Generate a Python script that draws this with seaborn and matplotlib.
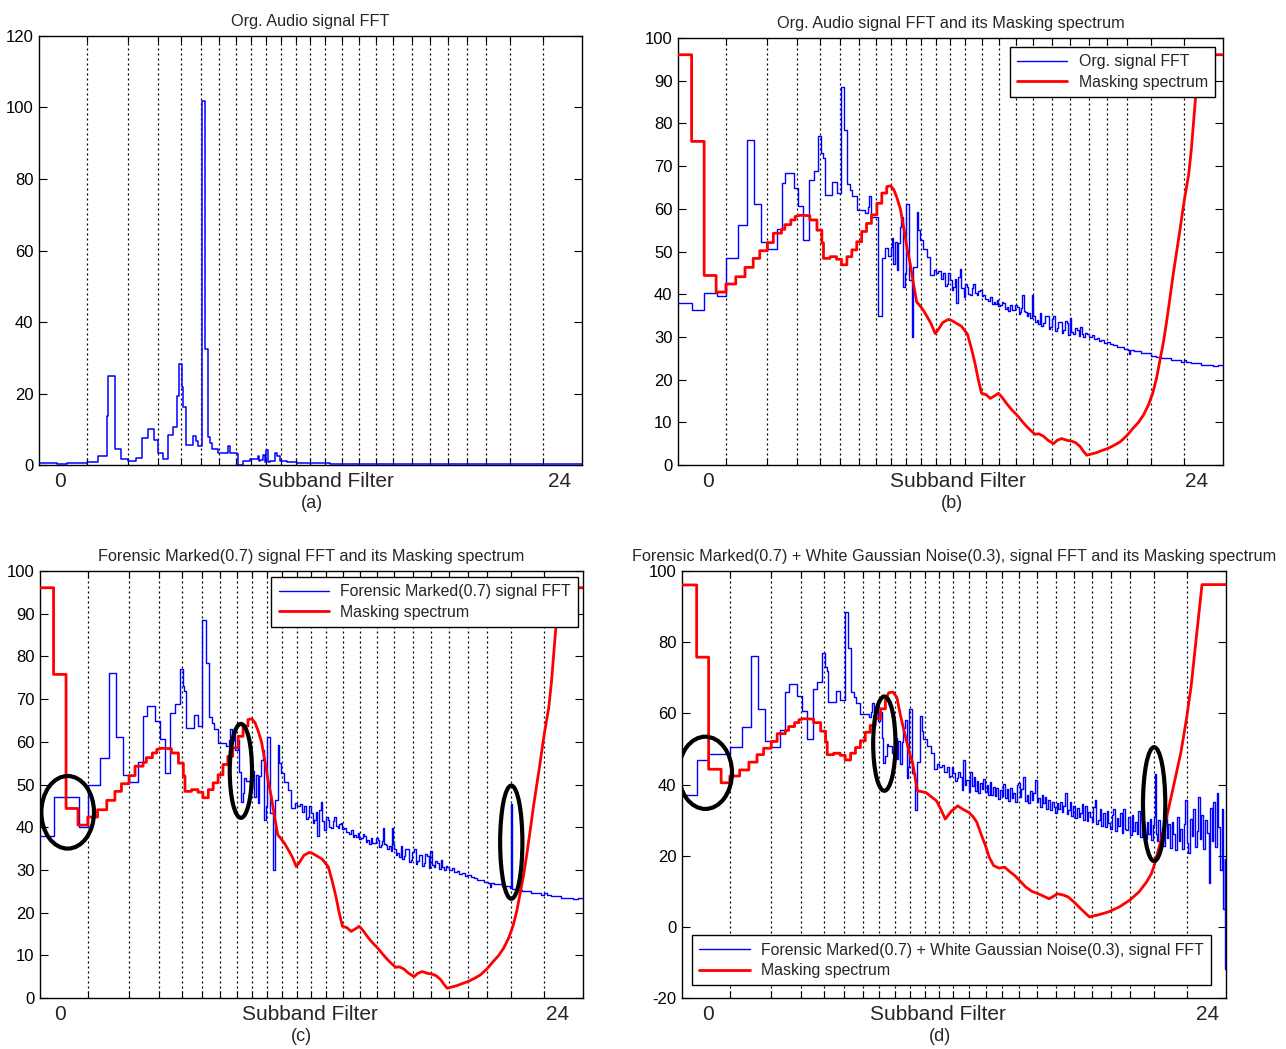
import numpy as np
import pandas as pd
import seaborn as sns
import matplotlib.pyplot as plt
from matplotlib.patches import Ellipse

#--------------------------------------------------------------------------------------------------
# Data. x = position along the subband axis (0..100 of the frame width)

band_edges = [8.9, 16.4, 21.9, 26.1, 29.8, 33.2, 36.3, 39.1, 41.9, 44.6, 47.3, 49.9,
              52.7, 55.8, 58.9, 62.0, 65.2, 68.7, 72.0, 75.4, 78.8, 82.3, 86.8, 92.8]

# (a) linear magnitude of the original FFT
org_amp = [
    (0.0, 0.5), (3.3, 0.3), (5.1, 0.6), (8.9, 0.9), (10.9, 2.4), (12.5, 13.8), (12.8, 24.9), (14.0, 4.5),
    (15.2, 1.7), (16.4, 1.2), (17.9, 2.1), (18.9, 7.5), (20.0, 10.0), (21.1, 7.0), (22.0, 3.3), (22.9, 1.7),
    (23.8, 8.5), (24.6, 10.5), (25.4, 19.3), (25.7, 28.2), (26.3, 21.7), (26.6, 16.1), (27.1, 5.6), (28.4, 8.2),
    (28.9, 6.8), (29.3, 5.4), (29.96, 101.8), (30.6, 32.5), (31.1, 7.7), (31.5, 6.2), (31.8, 4.5), (33.0, 3.5),
    (34.9, 5.4), (35.2, 3.3), (36.4, 3.0), (36.7, 0.1), (37.6, 1.0), (38.9, 1.7), (40.4, 2.6), (40.6, 1.2),
    (40.8, 1.5), (41.3, 2.9), (41.6, 0.8), (41.8, 4.2), (42.1, 0.8), (42.5, 1.2), (43.5, 3.3), (43.8, 2.4),
    (44.4, 1.2), (45.6, 0.9), (47.5, 0.7), (50.5, 0.5), (53.6, 0.3), (60.0, 0.2), (100.0, 0.2),
]

# (b) original signal FFT in dB
org_fft = [
    (0.0, 38.0), (2.5, 36.3), (4.8, 40.2), (7.1, 39.7), (8.8, 48.4), (11.1, 56.3), (12.7, 76.2), (14.0, 61.1),
    (15.2, 52.2), (16.4, 50.5), (18.1, 55.2), (19.0, 66.0), (19.7, 68.4), (21.2, 64.8), (22.1, 60.7), (23.0, 52.7),
    (24.0, 66.8), (24.9, 68.8), (25.7, 77.1), (26.3, 73.0), (26.6, 72.0), (26.9, 63.3), (28.3, 66.4), (29.1, 63.7),
    (29.9, 88.5), (30.5, 78.5), (31.1, 65.9), (31.6, 64.5), (32.0, 62.9), (32.8, 59.8), (34.3, 59.1), (34.8, 60.5),
    (35.0, 63.0), (35.4, 58.2), (36.7, 34.8), (37.4, 48.4), (37.9, 50.8), (38.6, 49.0), (39.0, 51.1), (39.3, 53.1),
    (39.5, 47.2), (39.8, 52.3), (40.1, 45.7), (40.4, 51.9), (40.7, 55.8), (41.0, 58.2), (41.3, 41.8), (41.6, 45.0),
    (41.8, 61.2), (42.3, 43.3), (42.9, 30.1), (43.2, 46.4), (43.8, 59.3), (44.1, 55.0), (44.4, 52.7), (45.0, 50.7),
    (45.7, 48.8), (46.3, 44.5), (46.9, 45.7), (47.3, 44.9), (47.8, 45.5), (48.2, 43.6), (48.7, 44.9), (49.0, 42.0),
    (49.3, 42.5), (49.6, 45.0), (49.9, 43.3), (50.2, 41.0), (50.5, 41.8), (50.8, 43.5), (51.1, 37.9), (51.4, 44.0),
    (51.7, 46.0), (52.0, 41.5), (52.4, 39.4), (52.7, 42.5), (53.0, 41.8), (53.3, 40.0), (53.6, 39.8), (53.9, 41.5),
    (54.2, 42.5), (54.5, 40.2), (54.8, 39.8), (55.1, 40.8), (55.4, 41.0), (55.7, 39.5), (56.0, 39.8), (56.3, 38.8),
    (56.6, 39.0), (56.9, 38.5), (57.3, 39.4), (57.6, 37.8), (57.9, 38.2), (58.2, 37.6), (58.5, 38.6), (58.8, 37.2),
    (59.1, 37.5), (59.4, 38.3), (59.7, 37.9), (60.0, 36.6), (60.3, 37.1), (60.6, 36.0), (60.9, 37.5), (61.2, 36.2),
    (61.5, 36.3), (61.8, 37.4), (62.2, 37.1), (62.5, 35.4), (62.8, 35.9), (63.0, 36.8), (63.2, 39.8), (63.4, 36.0),
    (63.7, 35.9), (64.0, 34.9), (64.3, 35.6), (64.6, 34.5), (64.9, 39.8), (65.1, 36.0), (65.2, 34.8), (65.5, 33.6),
    (65.8, 34.0), (66.1, 33.0), (66.4, 35.6), (66.7, 32.6), (67.0, 33.2), (67.3, 34.9), (67.7, 34.8), (68.0, 31.8),
    (68.3, 32.4), (68.6, 34.2), (68.9, 34.8), (69.2, 31.4), (69.5, 32.0), (69.8, 33.6), (70.1, 33.6), (70.4, 31.0),
    (70.7, 31.6), (71.0, 33.8), (71.3, 33.2), (71.6, 30.4), (71.9, 34.4), (72.2, 31.2), (72.5, 30.8), (72.8, 32.0),
    (73.2, 31.6), (73.5, 30.2), (73.8, 32.4), (74.1, 30.6), (74.4, 30.1), (74.7, 31.0), (75.0, 30.8), (75.4, 29.9),
    (75.9, 30.5), (76.3, 29.6), (76.8, 29.7), (77.2, 29.0), (77.7, 29.3), (78.2, 28.6), (78.7, 28.9), (79.3, 28.4),
    (79.9, 28.1), (80.5, 27.6), (81.1, 27.7), (81.8, 27.2), (82.6, 27.0), (82.8, 26.0), (83.0, 27.0), (83.6, 26.6),
    (84.2, 26.6), (85.0, 26.2), (85.9, 26.2), (86.8, 25.6), (87.8, 25.4), (88.7, 25.1), (89.6, 25.0), (90.5, 24.6),
    (91.4, 24.6), (92.3, 24.2), (92.8, 24.6), (93.3, 24.2), (94.2, 23.8), (95.1, 23.8), (96.0, 23.4), (97.0, 23.4),
    (98.2, 23.2), (99.1, 23.4), (100.0, 23.0),
]

# (c) forensic marked (0.7) signal FFT in dB
marked_fft = [
    (0.0, 37.9), (2.6, 47.0), (7.2, 40.0), (8.8, 50.0), (11.1, 56.3), (12.7, 76.2), (14.0, 61.1),
    (15.2, 52.2), (16.4, 50.5), (18.1, 55.2), (19.0, 66.0), (19.7, 68.4), (21.2, 64.8), (22.1, 60.7), (23.0, 52.7),
    (24.0, 66.8), (24.9, 68.8), (25.7, 77.1), (26.3, 73.0), (26.6, 72.0), (26.9, 63.3), (28.3, 66.4), (29.1, 63.7),
    (29.9, 88.5), (30.5, 78.5), (31.1, 65.9), (31.6, 64.5), (32.0, 62.9), (32.8, 59.8), (34.3, 59.1), (34.8, 60.5),
    (35.0, 63.0), (35.3, 60.5), (35.7, 62.0), (36.0, 58.0), (36.4, 60.5), (36.7, 53.0), (37.0, 46.0), (37.3, 48.0),
    (37.6, 51.5), (37.9, 50.8), (38.6, 49.0), (39.0, 51.1), (39.3, 53.1),
    (39.5, 47.2), (39.8, 52.3), (40.1, 45.7), (40.4, 51.9), (40.7, 55.8), (41.0, 58.2), (41.3, 41.8), (41.6, 45.0),
    (41.8, 61.2), (42.3, 43.3), (42.9, 30.1), (43.2, 46.4), (43.8, 59.3), (44.1, 55.0), (44.4, 52.7), (45.0, 50.7),
    (45.7, 48.8), (46.3, 44.5), (46.9, 45.7), (47.3, 44.9), (47.8, 45.5), (48.2, 43.6), (48.7, 44.9), (49.0, 42.0),
    (49.3, 42.5), (49.6, 45.0), (49.9, 43.3), (50.2, 41.0), (50.5, 41.8), (50.8, 43.5), (51.1, 37.9), (51.4, 44.0),
    (51.7, 46.0), (52.0, 41.5), (52.4, 39.4), (52.7, 42.5), (53.0, 41.8), (53.3, 40.0), (53.6, 39.8), (53.9, 41.5),
    (54.2, 42.5), (54.5, 40.2), (54.8, 39.8), (55.1, 40.8), (55.4, 41.0), (55.7, 39.5), (56.0, 39.8), (56.3, 38.8),
    (56.6, 39.0), (56.9, 38.5), (57.3, 39.4), (57.6, 37.8), (57.9, 38.2), (58.2, 37.6), (58.5, 38.6), (58.8, 37.2),
    (59.1, 37.5), (59.4, 38.3), (59.7, 37.9), (60.0, 36.6), (60.3, 37.1), (60.6, 36.0), (60.9, 37.5), (61.2, 36.2),
    (61.5, 36.3), (61.8, 37.4), (62.2, 37.1), (62.5, 35.4), (62.8, 35.9), (63.0, 36.8), (63.2, 39.8), (63.4, 36.0),
    (63.7, 35.9), (64.0, 34.9), (64.3, 35.6), (64.6, 34.5), (64.9, 39.8), (65.1, 36.0), (65.2, 34.8), (65.5, 33.6),
    (65.8, 34.0), (66.1, 33.0), (66.4, 35.6), (66.7, 32.6), (67.0, 33.2), (67.3, 34.9), (67.7, 34.8), (68.0, 31.8),
    (68.3, 32.4), (68.6, 34.2), (68.9, 34.8), (69.2, 31.4), (69.5, 32.0), (69.8, 33.6), (70.1, 33.6), (70.4, 31.0),
    (70.7, 31.6), (71.0, 33.8), (71.3, 33.2), (71.6, 30.4), (71.9, 34.4), (72.2, 31.2), (72.5, 30.8), (72.8, 32.0),
    (73.2, 31.6), (73.5, 30.2), (73.8, 32.4), (74.1, 30.6), (74.4, 30.1), (74.7, 31.0), (75.0, 30.8), (75.4, 29.9),
    (75.9, 30.5), (76.3, 29.6), (76.8, 29.7), (77.2, 29.0), (77.7, 29.3), (78.2, 28.6), (78.7, 28.9), (79.3, 28.4),
    (79.9, 28.1), (80.5, 27.6), (81.1, 27.7), (81.8, 27.2), (82.6, 27.0), (82.8, 26.0), (83.0, 27.0), (83.6, 26.6),
    (84.2, 26.6), (85.0, 26.2), (85.9, 26.2), (86.6, 25.8), (86.75, 45.5), (86.85, 35.0), (86.95, 25.6),
    (87.8, 25.4), (88.7, 25.1), (89.6, 25.0), (90.5, 24.6), (91.4, 24.6), (92.3, 24.2), (92.8, 24.6), (93.3, 24.2),
    (94.2, 23.8), (95.1, 23.8), (96.0, 23.4), (97.0, 23.4), (98.2, 23.2), (99.1, 23.4), (100.0, 23.0),
]

# (d) forensic marked (0.7) + white gaussian noise (0.3) FFT in dB
noisy_fft = [
    (0.0, 37.0), (2.7, 47.0), (4.7, 48.7), (8.8, 50.5), (11.1, 56.3), (12.7, 76.2), (14.0, 61.1),
    (15.2, 52.2), (16.4, 50.5), (18.1, 55.2), (19.0, 66.0), (19.7, 68.4), (21.2, 64.8), (22.1, 60.7), (23.0, 52.7),
    (24.0, 66.8), (24.9, 68.8), (25.7, 77.1), (26.3, 73.0), (26.6, 72.0), (26.9, 63.3), (28.3, 66.4), (29.1, 63.7),
    (29.9, 88.5), (30.5, 78.5), (31.1, 65.9), (31.6, 64.5), (32.0, 62.9), (32.8, 59.8), (34.3, 59.1), (34.8, 60.5),
    (35.0, 63.0), (35.3, 60.5), (35.7, 62.0), (36.0, 58.0), (36.4, 60.5), (36.7, 53.0), (37.0, 46.0), (37.3, 48.0),
    (37.6, 51.5), (37.9, 50.8), (38.6, 49.0), (39.0, 51.1), (39.3, 53.1),
    (39.5, 47.2), (39.8, 52.3), (40.1, 45.7), (40.4, 51.9), (40.7, 55.8), (41.0, 58.2), (41.3, 41.8), (41.6, 45.0),
    (41.8, 61.2), (42.3, 43.3), (42.9, 32.8), (43.2, 46.4), (43.8, 59.3), (44.1, 55.0), (44.4, 52.7), (45.0, 50.7),
    (45.7, 48.8), (46.3, 44.5), (46.9, 45.7), (47.3, 44.9), (47.8, 45.5), (48.2, 43.6), (48.7, 44.9), (49.0, 42.0),
    (49.3, 42.5), (49.6, 45.0), (49.9, 43.3), (50.2, 41.0), (50.5, 41.8), (50.8, 43.5),
    (51.1, 42.2), (51.4, 38.5), (51.7, 46.8), (52.0, 40.0), (52.3, 41.3), (52.7, 38.0), (53.0, 43.5), (53.3, 39.5),
    (53.6, 42.2), (53.9, 38.2), (54.2, 41.0), (54.5, 37.5), (54.8, 40.4), (55.1, 38.8), (55.4, 41.5), (55.7, 37.9),
    (56.0, 39.9), (56.3, 37.2), (56.6, 40.6), (56.9, 37.0), (57.2, 39.4), (57.5, 36.8), (57.8, 39.0), (58.1, 36.0),
    (58.5, 38.5), (58.8, 36.9), (59.1, 40.2), (59.4, 36.3), (59.7, 38.8), (60.0, 35.5), (60.3, 39.0), (60.6, 36.2),
    (60.9, 37.6), (61.2, 35.0), (61.5, 39.8), (61.8, 40.4), (62.1, 36.5), (62.4, 38.7), (62.7, 42.2), (63.0, 35.4),
    (63.4, 37.0), (63.7, 34.9), (64.0, 38.2), (64.3, 35.7), (64.6, 37.6), (64.9, 41.3), (65.2, 35.0), (65.5, 36.1),
    (65.8, 33.6), (66.1, 37.0), (66.4, 34.8), (66.7, 36.4), (67.0, 33.2), (67.3, 35.7), (67.6, 32.8), (68.0, 35.0),
    (68.3, 33.8), (68.6, 31.9), (68.9, 34.9), (69.2, 33.0), (69.5, 35.2), (69.8, 32.4), (70.1, 34.0), (70.4, 37.6),
    (70.7, 31.8), (71.0, 32.9), (71.3, 35.0), (71.6, 31.2), (71.9, 34.0), (72.2, 30.6), (72.6, 33.5), (72.9, 31.0),
    (73.2, 31.9), (73.5, 34.4), (73.8, 30.1), (74.1, 33.9), (74.4, 29.8), (74.7, 32.4), (75.0, 31.0), (75.3, 29.4),
    (75.6, 33.8), (75.9, 35.7), (76.2, 29.0), (76.5, 30.0), (76.8, 33.2), (77.1, 28.4), (77.4, 31.9), (77.8, 28.2),
    (78.1, 32.6), (78.4, 29.2), (78.7, 27.5), (79.0, 31.4), (79.3, 33.0), (79.6, 27.0), (79.9, 30.6), (80.2, 28.3),
    (80.5, 32.0), (80.8, 26.5), (81.1, 33.0), (81.4, 27.6), (81.7, 27.3), (82.0, 30.8), (82.4, 25.8), (82.7, 31.4),
    (83.0, 27.0), (83.3, 29.5), (83.6, 26.0), (83.9, 32.5), (84.2, 25.2), (84.5, 31.9), (84.8, 27.8), (85.1, 24.6),
    (85.4, 29.6), (85.7, 26.2), (86.0, 30.4), (86.3, 24.3), (86.6, 28.5), (86.8, 31.0), (87.0, 43.1), (87.1, 26.0),
    (87.3, 24.0), (87.6, 30.0), (87.9, 23.6), (88.2, 27.8), (88.5, 22.6), (88.8, 31.5), (89.1, 25.0), (89.4, 28.8),
    (89.7, 22.2), (90.0, 29.5), (90.3, 26.0), (90.6, 21.7), (91.0, 30.8), (91.3, 24.2), (91.6, 27.6), (91.9, 22.0),
    (92.2, 29.0), (92.5, 35.7), (92.8, 23.5), (93.1, 20.8), (93.4, 30.2), (93.7, 25.5), (94.0, 33.0), (94.3, 22.4),
    (94.6, 27.0), (94.9, 36.6), (95.2, 24.8), (95.5, 31.5), (95.8, 22.0), (96.1, 30.0), (96.5, 26.5), (96.8, 12.4),
    (97.1, 33.5), (97.4, 24.0), (97.7, 35.0), (98.0, 22.5), (98.3, 37.6), (98.6, 28.0), (98.9, 16.1), (99.2, 33.0),
    (99.5, 4.9), (99.8, 19.0), (99.9, -11.8), (100.0, -11.8),
]

# masking spectrum (b, c)
mask_org = [
    (0.0, 96.1), (2.5, 96.1), (2.5, 75.8), (4.8, 75.8), (4.8, 44.4), (7.0, 44.4), (7.0, 40.5), (8.8, 40.5),
    (8.8, 42.4), (10.6, 42.4), (10.6, 44.1), (12.3, 44.1), (12.3, 46.3), (13.8, 46.3), (13.8, 48.4), (15.0, 48.4),
    (15.0, 50.2), (16.4, 50.2), (16.4, 52.1), (17.5, 52.1), (17.5, 54.3), (19.0, 54.3), (19.0, 55.2), (19.6, 55.2),
    (19.6, 56.3), (20.7, 56.3), (20.7, 57.4), (21.5, 57.4), (21.5, 58.2), (22.4, 58.5), (24.2, 58.4), (24.2, 57.4),
    (25.5, 57.4), (25.5, 55.0), (26.4, 55.0), (26.4, 52.0), (26.7, 52.0), (26.7, 48.4), (27.9, 48.4), (27.9, 48.8),
    (29.1, 48.8), (29.1, 48.2), (30.0, 48.2), (30.0, 46.9), (31.0, 46.9), (31.0, 48.8), (31.9, 48.8), (31.9, 50.4),
    (32.8, 50.4), (32.8, 52.3), (33.7, 52.3), (33.7, 54.7), (34.6, 54.7), (34.6, 56.6), (35.5, 56.6), (35.5, 58.6),
    (36.5, 58.6), (36.5, 61.3), (37.4, 61.3), (37.4, 63.7), (38.3, 63.7), (38.3, 65.2), (39.0, 65.4), (39.6, 64.5),
    (40.2, 62.5), (40.8, 60.0), (41.5, 55.0), (42.0, 51.0), (42.6, 47.2), (43.2, 42.5), (43.8, 38.2), (44.4, 37.3),
    (45.0, 36.3), (45.6, 35.0), (46.4, 33.2), (47.2, 30.8), (47.8, 31.8), (48.6, 33.4), (49.6, 34.1), (50.3, 33.8),
    (51.1, 33.2), (52.0, 32.5), (53.1, 30.7), (53.8, 27.5), (54.5, 23.8), (55.1, 20.0), (55.7, 16.8), (56.5, 16.5),
    (57.3, 15.6), (58.1, 16.2), (58.8, 16.8), (59.5, 15.8), (60.3, 14.4), (61.2, 13.0), (62.2, 11.7), (63.1, 10.3),
    (64.0, 9.0), (64.8, 8.0), (65.5, 7.2), (66.2, 7.3), (67.0, 6.8), (67.9, 5.8), (68.9, 5.0), (69.6, 5.8),
    (70.4, 6.2), (71.3, 5.8), (72.2, 5.6), (73.0, 5.2), (73.8, 4.3), (74.4, 3.2), (75.0, 2.3), (75.9, 2.6),
    (76.8, 2.9), (77.8, 3.4), (78.9, 3.9), (80.0, 4.6), (81.1, 5.4), (82.3, 6.8), (83.5, 8.6), (84.5, 10.0),
    (85.4, 11.7), (86.3, 14.0), (87.1, 16.8), (87.8, 20.3), (88.4, 24.3), (89.1, 29.0), (89.7, 34.0), (90.3, 39.4),
    (90.9, 45.0), (91.5, 50.0), (92.1, 55.0), (92.6, 59.5), (93.0, 62.8), (93.7, 68.0), (94.2, 74.0), (94.6, 80.4),
    (95.1, 88.5), (95.6, 96.1), (100.0, 96.1),
]

# masking spectrum (d)
mask_noisy = [
    (0.0, 96.1), (2.7, 96.1), (2.7, 75.8), (4.9, 75.8), (4.9, 44.3), (7.2, 44.3), (7.2, 40.5), (8.8, 40.5),
    (8.8, 42.4), (10.6, 42.4), (10.6, 44.1), (12.3, 44.1), (12.3, 46.3), (13.8, 46.3), (13.8, 48.4), (15.0, 48.4),
    (15.0, 50.2), (16.4, 50.2), (16.4, 52.1), (17.5, 52.1), (17.5, 54.3), (19.0, 54.3), (19.0, 55.2), (19.6, 55.2),
    (19.6, 56.3), (20.7, 56.3), (20.7, 57.4), (21.5, 57.4), (21.5, 58.2), (22.4, 58.5), (24.2, 58.4), (24.2, 57.4),
    (25.5, 57.4), (25.5, 55.0), (26.4, 55.0), (26.4, 52.0), (26.7, 52.0), (26.7, 48.4), (27.9, 48.4), (27.9, 48.8),
    (29.1, 48.8), (29.1, 48.2), (30.0, 48.2), (30.0, 46.9), (31.0, 46.9), (31.0, 48.8), (31.9, 48.8), (31.9, 50.4),
    (32.8, 50.4), (32.8, 52.3), (33.7, 52.3), (33.7, 54.7), (34.6, 54.7), (34.6, 56.6), (35.5, 56.6), (35.5, 58.6),
    (36.5, 58.6), (36.5, 61.3), (37.4, 61.3), (37.4, 63.7), (38.0, 65.8), (38.8, 66.0), (39.5, 64.5), (40.2, 59.2),
    (41.0, 54.0), (41.8, 49.0), (42.4, 46.1), (43.3, 38.2), (44.1, 38.0), (44.9, 37.7), (45.8, 36.6), (46.8, 35.4),
    (47.6, 33.0), (48.4, 30.3), (49.5, 32.5), (50.7, 34.0), (51.7, 33.0), (52.7, 32.2), (53.5, 31.0), (54.2, 29.4),
    (55.0, 26.0), (55.8, 22.8), (56.5, 19.5), (57.3, 17.2), (58.3, 16.5), (59.3, 16.8), (60.2, 15.6), (61.2, 14.4),
    (62.2, 12.8), (63.2, 11.2), (64.3, 10.0), (65.5, 9.3), (66.5, 8.6), (67.5, 7.9), (68.3, 8.6), (69.0, 9.3),
    (70.0, 9.0), (71.0, 8.4), (72.2, 6.8), (73.3, 5.1), (74.2, 3.8), (74.9, 2.8), (76.6, 3.4), (78.4, 4.2),
    (80.4, 5.6), (82.3, 7.5), (84.0, 9.8), (85.4, 12.6), (86.3, 15.0), (86.8, 17.2), (88.0, 24.0), (89.3, 32.2),
    (90.5, 40.5), (91.7, 48.9), (92.7, 58.0), (93.6, 67.6), (94.6, 82.0), (95.6, 96.2), (100.0, 96.2),
]

# highlighted regions: (position, level, width, height)
circles_c = [(5.1, 43.5, 9.7, 17.0), (37.0, 53.2, 4.1, 22.0), (86.8, 36.5, 4.1, 26.5)]
circles_d = [(4.3, 43.3, 9.8, 20.3), (37.2, 51.5, 4.1, 26.5), (86.8, 34.5, 4.1, 32.0)]

#--------------------------------------------------------------------------------------------------

sns.set_style('white')
plt.rcParams['font.family'] = ['Liberation Sans', 'DejaVu Sans']
plt.rcParams['axes.unicode_minus'] = False

BLUE = '#0000ff'
RED = '#ff0000'


def trace(ax, pairs, color, lw, steps, label=None):
    '''
    Draws one spectrum from (position, level) pairs.
    '''
    df = pd.DataFrame(pairs, columns=['pos', 'level'])
    kw = {'drawstyle': 'steps-post'} if steps else {}
    sns.lineplot(data=df, x='pos', y='level', ax=ax, color=color, linewidth=lw,
                 estimator=None, sort=False, label=label, zorder=3, **kw)


def frame(ax, title, ylim, yticks, xlabels, tag):
    '''
    MATLAB-like frame: band edges, inward ticks, subband labels underneath.
    '''
    ax.set_xlim(0, 100)
    ax.set_ylim(*ylim)
    ax.set_yticks(yticks)
    ax.set_xticks(band_edges)
    ax.set_xlabel('')
    ax.set_ylabel('')
    for edge in band_edges:
        ax.axvline(edge, color='black', ls=(0, (1.6, 2.4)), lw=0.9, zorder=1)
    for sp in ax.spines.values():
        sp.set_color('black')
        sp.set_linewidth(1.0)
    ax.tick_params(axis='y', direction='in', left=True, right=True, length=6,
                   width=0.8, labelsize=12, pad=4, colors='black')
    ax.tick_params(axis='x', direction='in', bottom=True, top=True, length=5,
                   width=0.8, labelbottom=False, colors='black')
    ax.set_title(title, fontsize=11.7, pad=7)
    trans = ax.get_xaxis_transform()
    x0, x24, xsub, xtag = xlabels
    ax.text(x0, -0.038, '0', transform=trans, ha='center', va='center', fontsize=15)
    ax.text(x24, -0.038, '24', transform=trans, ha='center', va='center', fontsize=15)
    ax.text(xsub, -0.038, 'Subband Filter', transform=trans, ha='center', va='center', fontsize=15)
    ax.text(xtag, -0.089, tag, transform=trans, ha='center', va='center', fontsize=13)


def legend(ax, labels, loc, anchor):
    handles = ax.get_lines()
    lg = ax.legend(handles[:2], labels, loc=loc, bbox_to_anchor=anchor, fontsize=11.4,
                   fancybox=False, framealpha=1, edgecolor='black', handlelength=3.2,
                   borderpad=0.45, labelspacing=0.35, handletextpad=0.7, borderaxespad=0)
    lg.get_frame().set_linewidth(1.0)
    lg.set_zorder(6)


fig = plt.figure(figsize=(12.86, 10.49), dpi=100)
ax_a = fig.add_axes([0.0303, 0.5567, 0.4222, 0.4090])
ax_b = fig.add_axes([0.5272, 0.5567, 0.4238, 0.4070])
ax_c = fig.add_axes([0.0311, 0.0486, 0.4222, 0.4070])
ax_d = fig.add_axes([0.5303, 0.0486, 0.4230, 0.4070])

# (a)
trace(ax_a, org_amp, BLUE, 1.1, True)
frame(ax_a, 'Org. Audio signal FFT', (0, 120), range(0, 121, 20), (3.9, 95.9, 52.9, 50.3), '(a)')

# (b)
trace(ax_b, org_fft, BLUE, 1.0, True, 'Org. signal FFT')
trace(ax_b, mask_org, RED, 2.0, False, 'Masking spectrum')
frame(ax_b, 'Org. Audio signal FFT and its Masking spectrum', (0, 100), range(0, 101, 10),
      (5.5, 95.2, 51.4, 50.3), '(b)')
legend(ax_b, ['Org. signal FFT', 'Masking spectrum'], 'upper right', (0.985, 0.979))

# (c)
trace(ax_c, marked_fft, BLUE, 1.0, True, 'Forensic Marked(0.7) signal FFT')
trace(ax_c, mask_org, RED, 2.0, False, 'Masking spectrum')
frame(ax_c, 'Forensic Marked(0.7) signal FFT and its Masking spectrum', (0, 100), range(0, 101, 10),
      (3.7, 95.4, 49.7, 48.2), '(c)')
legend(ax_c, ['Forensic Marked(0.7) signal FFT', 'Masking spectrum'], 'upper right', (0.991, 0.986))
for cx, cy, w, h in circles_c:
    ax_c.add_patch(Ellipse((cx, cy), w, h, fill=False, edgecolor='black', lw=3, zorder=5))

# (d)
trace(ax_d, noisy_fft, BLUE, 1.0, True, 'noisy')
trace(ax_d, mask_noisy, RED, 2.0, False, 'mask')
frame(ax_d, 'Forensic Marked(0.7) + White Gaussian Noise(0.3), signal FFT and its Masking spectrum',
      (-20, 100), range(-20, 101, 20), (4.8, 96.7, 47.1, 47.4), '(d)')
legend(ax_d, ['Forensic Marked(0.7) + White Gaussian Noise(0.3), signal FFT', 'Masking spectrum'],
       'lower left', (0.018, 0.03))
for cx, cy, w, h in circles_d:
    ax_d.add_patch(Ellipse((cx, cy), w, h, fill=False, edgecolor='black', lw=3, zorder=5))

plt.savefig('out.png', dpi=100)
